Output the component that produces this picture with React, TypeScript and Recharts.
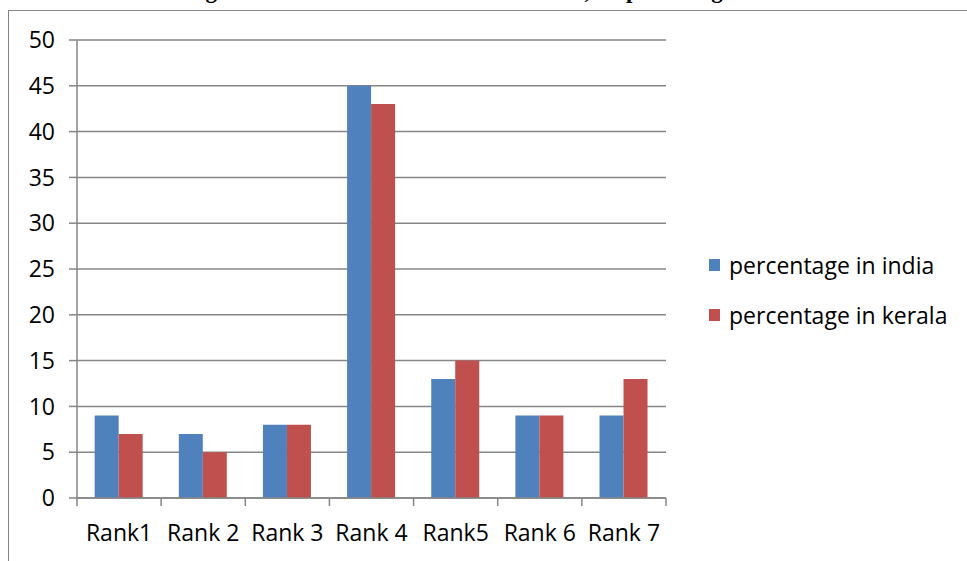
import React from 'react';
import { BarChart, Bar, XAxis, YAxis, CartesianGrid } from 'recharts';

// dados do gráfico
const categories = ['Rank1', 'Rank 2', 'Rank 3', 'Rank 4', 'Rank5', 'Rank 6', 'Rank 7'];
const indiaValues = [9, 7, 8, 45, 13, 9, 9];
const keralaValues = [7, 5, 8, 43, 15, 9, 13];
const yTicks = [0, 5, 10, 15, 20, 25, 30, 35, 40, 45, 50];
const seriesNames = ['percentage in india', 'percentage in kerala'];

const chartData = categories.map((rank, i) => ({
  rank,
  india: indiaValues[i],
  kerala: keralaValues[i],
}));

const W = 967;
const H = 561;
const MARGIN = { top: 40, right: 301, bottom: 0, left: 0 };
const Y_AXIS_W = 77;
const PLOT_W = W - MARGIN.left - MARGIN.right - Y_AXIS_W;
const GRAY = '#868686';
const BLUE = '#4F81BD';
const RED = '#C0504D';
const FONT = '"Open Sans", sans-serif';
const FS = 23;

const XTick = ({ x, y, payload, index }: any) => {
  const bw = PLOT_W / categories.length;
  const left = x - bw / 2;
  const right = x + bw / 2;
  return (
    <g>
      <line x1={left} y1={y} x2={left} y2={y + 8} stroke={GRAY} strokeWidth={1.5} />
      {index === categories.length - 1 && (
        <line x1={right} y1={y} x2={right} y2={y + 8} stroke={GRAY} strokeWidth={1.5} />
      )}
      <text x={x} y={y + 43} textAnchor="middle" fontSize={FS} fontFamily={FONT} fill="#000">
        {payload.value}
      </text>
    </g>
  );
};

const LegendBox = () => (
  <div style={{ position: 'absolute', left: 709, top: 240, fontFamily: FONT, fontSize: FS, color: '#000' }}>
    {seriesNames.map((name, i) => (
      <div key={name} style={{ display: 'flex', alignItems: 'center', height: 50, whiteSpace: 'nowrap' }}>
        <span style={{ width: 11, height: 12, background: i === 0 ? BLUE : RED, marginRight: 9, display: 'inline-block' }} />
        <span>{name}</span>
      </div>
    ))}
  </div>
);

const App = () => {
  return (
    <div style={{ position: 'absolute', left: 0, top: 0, width: W, height: H, overflow: 'hidden', background: '#fff' }}>
      {/* título cortado no topo */}
      <div style={{ position: 'absolute', left: 0, top: 0, width: W, height: 10, overflow: 'hidden' }}>
        <div
          style={{
            position: 'absolute', left: 185, top: -21, whiteSpace: 'nowrap',
            fontFamily: '"Liberation Serif", serif', fontWeight: 'bold', fontSize: 23, lineHeight: '23px',
          }}
        >
          Figure 5: Rank wise distribution of cases, on percentage
        </div>
      </div>
      {/* moldura do gráfico */}
      <div
        style={{
          position: 'absolute', left: 8, top: 10, width: W, height: H,
          borderLeft: `1.5px solid ${GRAY}`, borderTop: `1.5px solid ${GRAY}`,
        }}
      />
      <div style={{ position: 'absolute', left: 0, top: 0 }}>
        <BarChart width={W} height={H} data={chartData} margin={MARGIN} barGap={0} barCategoryGap="21%">
          <CartesianGrid vertical={false} stroke={GRAY} strokeWidth={1.5} />
          <XAxis
            dataKey="rank"
            height={63}
            tickLine={false}
            tickSize={0}
            tickMargin={0}
            tick={<XTick />}
            axisLine={{ stroke: GRAY, strokeWidth: 1.5 }}
            interval={0}
          />
          <YAxis
            width={Y_AXIS_W}
            domain={[0, 50]}
            ticks={yTicks}
            tickSize={8}
            tickMargin={14}
            tickLine={{ stroke: GRAY, strokeWidth: 1.5 }}
            axisLine={{ stroke: GRAY, strokeWidth: 1.5 }}
            tick={{ fontSize: FS, fontFamily: FONT, fill: '#000' }}
          />
          <Bar dataKey="india" name={seriesNames[0]} fill={BLUE} isAnimationActive={false} />
          <Bar dataKey="kerala" name={seriesNames[1]} fill={RED} isAnimationActive={false} />
        </BarChart>
      </div>
      <LegendBox />
    </div>
  );
};

export default App;
